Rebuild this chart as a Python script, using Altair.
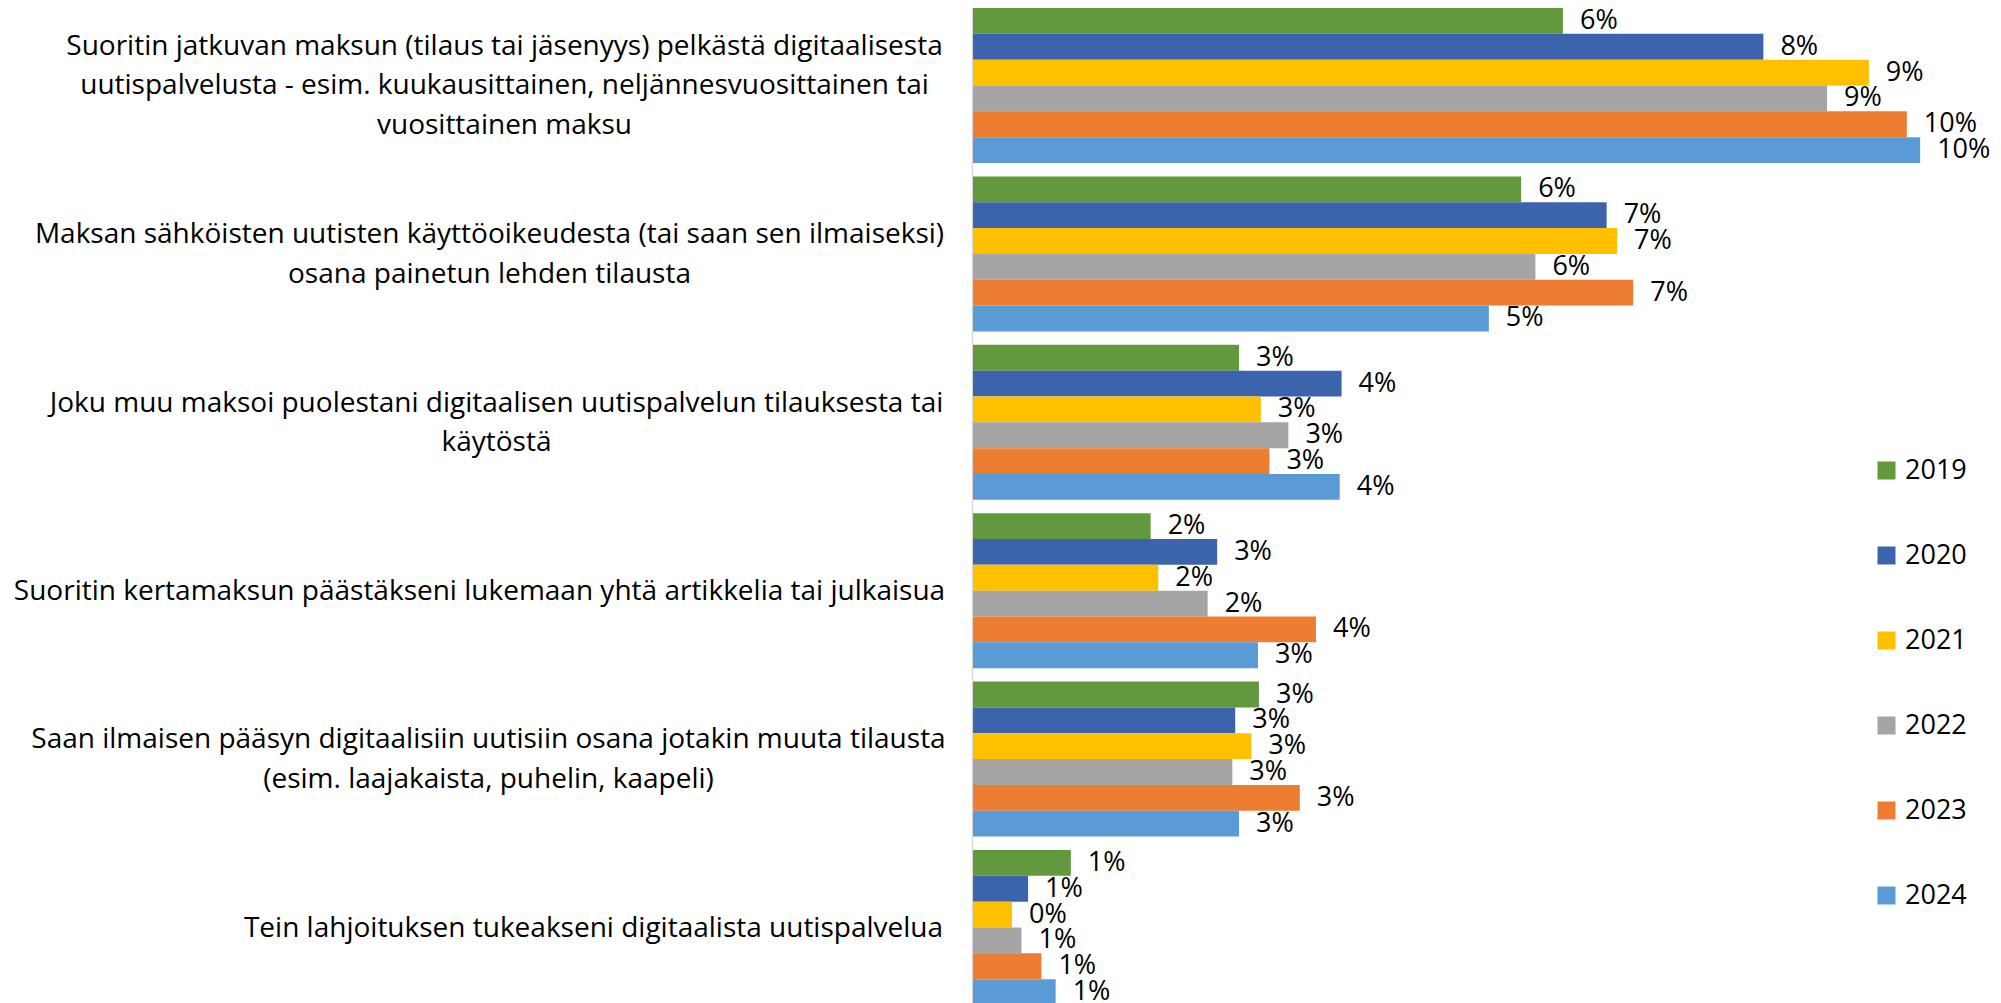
import json
import altair as alt
import pandas as pd

# ---------------- data ----------------
categories = [
    "Suoritin jatkuvan maksun (tilaus tai jäsenyys) pelkästä digitaalisesta|uutispalvelusta - esim. kuukausittainen, neljännesvuosittainen tai|vuosittainen maksu",
    "Maksan sähköisten uutisten käyttöoikeudesta (tai saan sen ilmaiseksi)|osana painetun lehden tilausta",
    "Joku muu maksoi puolestani digitaalisen uutispalvelun tilauksesta tai|käytöstä",
    "Suoritin kertamaksun päästäkseni lukemaan yhtä artikkelia tai julkaisua",
    "Saan ilmaisen pääsyn digitaalisiin uutisiin osana jotakin muuta tilausta|(esim. laajakaista, puhelin, kaapeli)",
    "Tein lahjoituksen tukeakseni digitaalista uutispalvelua",
]
years = ["2019", "2020", "2021", "2022", "2023", "2024"]

v2019 = [6.21, 5.77, 2.80, 1.87, 3.01, 1.03]
v2020 = [8.32, 6.67, 3.88, 2.57, 2.76, 0.58]
v2021 = [9.43, 6.78, 3.03, 1.95, 2.93, 0.41]
v2022 = [8.99, 5.92, 3.32, 2.47, 2.73, 0.51]
v2023 = [9.83, 6.95, 3.12, 3.61, 3.44, 0.72]
v2024 = [9.97, 5.43, 3.86, 3.00, 2.80, 0.87]
series = [v2019, v2020, v2021, v2022, v2023, v2024]

rows = []
for y, vals in zip(years, series):
    for c, v in zip(categories, vals):
        rows.append({"category": c, "year": y, "value": v})
df = pd.DataFrame(rows)

# ---------------- style ----------------
FONT = "Open Sans"
FS = 27
AXIS_FS = 28
LINE_H = 39.5
colors = ["#63993D", "#3C64AD", "#FFC000", "#A5A5A5", "#ED7D31", "#5B9BD5"]
# distance (px) from axis to the centre of each label block
label_pads = [468, 483, 476, 493, 484, 379]
pad_expr = "{0}[indexof({1}, datum.value)]".format(
    json.dumps(label_pads), json.dumps(categories, ensure_ascii=False)
)
# shift multi-line labels up so the block is centred on the band
offset_expr = "-(length(split(datum.value, '|')) - 1) * {0} + 1".format(LINE_H / 2)

W, H = 1020, 997
XMAX = W / 95.0

base = alt.Chart(df).transform_calculate(
    label="format(datum.value, '.0f') + '%'"
).encode(
    y=alt.Y(
        "category:N",
        sort=categories,
        title=None,
        scale=alt.Scale(paddingInner=0.0796, paddingOuter=0),
        axis=alt.Axis(
            labelExpr="split(datum.value, '|')",
            labelAlign="center",
            labelBaseline="middle",
            labelPadding={"expr": pad_expr},
            labelOffset={"expr": offset_expr},
            labelFont=FONT,
            labelFontSize=AXIS_FS,
            labelColor="#000000",
            labelLineHeight=LINE_H,
            labelLimit=3000,
            ticks=False,
            tickSize=0,
            grid=False,
            domain=True,
            domainColor="#D9D9D9",
            domainWidth=1.5,
            offset=1,
        ),
    ),
    yOffset=alt.YOffset(
        "year:N", sort=years, scale=alt.Scale(paddingInner=0, paddingOuter=0)
    ),
)

bars = base.mark_bar().encode(
    x=alt.X(
        "value:Q",
        scale=alt.Scale(domain=[0, XMAX], nice=False, zero=True),
        axis=None,
    ),
    color=alt.Color(
        "year:N",
        sort=years,
        scale=alt.Scale(domain=years, range=colors),
        legend=alt.Legend(
            title=None,
            orient="none",
            legendX=900,
            legendY=449,
            symbolType="square",
            symbolSize=324,
            symbolStrokeWidth=0,
            symbolOpacity=1,
            labelFont=FONT,
            labelFontSize=FS,
            labelColor="#000000",
            labelOffset=5,
            rowPadding=57,
            padding=0,
        ),
    ),
)

labels = base.mark_text(
    align="left", baseline="middle", dx=17, font=FONT, fontSize=FS, color="#000000"
).encode(
    x=alt.X("value:Q", scale=alt.Scale(domain=[0, XMAX], nice=False, zero=True), axis=None),
    text="label:N",
)

chart = (
    alt.layer(bars, labels)
    .properties(
        width=W,
        height=H,
        padding={"left": 965, "top": 0, "right": 0, "bottom": 0},
        autosize=alt.AutoSizeParams(type="none"),
        background="white",
    )
    .configure_view(stroke=None)
)

chart.save("out.html", embed_options={"renderer": "svg", "actions": False})
